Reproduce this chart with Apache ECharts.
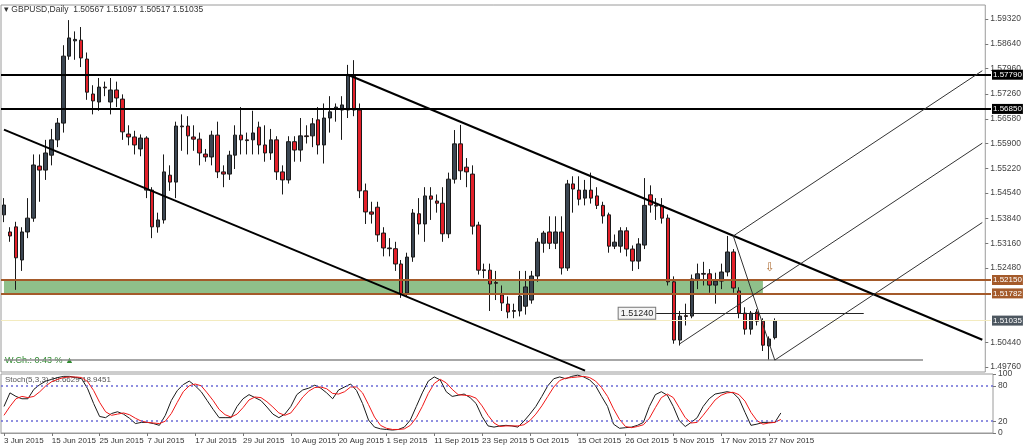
<!DOCTYPE html>
<html><head><meta charset="utf-8">
<script src="https://cdn.jsdelivr.net/npm/echarts@6/dist/echarts.min.js"></script>
<style>html,body{margin:0;padding:0;background:#fff}#c{width:1024px;height:447px}</style>
</head><body><div id="c"></div>
<script>
// [open, close, low, high]
const candles = [
[1.5394,1.5421,1.5374,1.5440],[1.5347,1.5336,1.5320,1.5360],[1.5361,1.5276,1.5188,1.5375],[1.5270,1.5347,1.5240,1.5360],
[1.5347,1.5385,1.5330,1.5440],[1.5385,1.5531,1.5375,1.5560],[1.5528,1.5517,1.5430,1.5560],[1.5517,1.5564,1.5490,1.5600],
[1.5558,1.5600,1.5530,1.5630],[1.5600,1.5646,1.5580,1.5660],[1.5646,1.5830,1.5620,1.5860],[1.5830,1.5880,1.5820,1.5929],
[1.5872,1.5876,1.5820,1.5898],[1.5874,1.5825,1.5800,1.5910],[1.5822,1.5731,1.5710,1.5840],[1.5726,1.5707,1.5670,1.5750],
[1.5704,1.5745,1.5680,1.5770],[1.5745,1.5743,1.5720,1.5760],[1.5704,1.5737,1.5670,1.5770],[1.5737,1.5715,1.5690,1.5760],
[1.5712,1.5622,1.5600,1.5725],[1.5616,1.5608,1.5585,1.5640],[1.5608,1.5586,1.5560,1.5625],[1.5575,1.5605,1.5555,1.5615],
[1.5605,1.5462,1.5440,1.5610],[1.5462,1.5361,1.5330,1.5470],[1.5361,1.5380,1.5345,1.5400],[1.5380,1.5512,1.5370,1.5560],
[1.5503,1.5484,1.5460,1.5530],[1.5484,1.5638,1.5440,1.5650],[1.5638,1.5636,1.5570,1.5670],[1.5638,1.5611,1.5560,1.5665],
[1.5608,1.5602,1.5570,1.5640],[1.5602,1.5564,1.5530,1.5620],[1.5561,1.5553,1.5540,1.5575],[1.5553,1.5613,1.5530,1.5625],
[1.5613,1.5512,1.5495,1.5650],[1.5512,1.5506,1.5470,1.5530],[1.5506,1.5558,1.5490,1.5570],[1.5558,1.5613,1.5520,1.5640],
[1.5613,1.5600,1.5560,1.5690],[1.5600,1.5598,1.5560,1.5620],[1.5600,1.5619,1.5560,1.5680],[1.5635,1.5586,1.5560,1.5650],
[1.5586,1.5564,1.5540,1.5640],[1.5564,1.5600,1.5545,1.5630],[1.5600,1.5512,1.5490,1.5610],[1.5512,1.5490,1.5450,1.5530],
[1.5490,1.5595,1.5480,1.5610],[1.5595,1.5572,1.5540,1.5610],[1.5572,1.5611,1.5540,1.5660],[1.5611,1.5609,1.5590,1.5640],
[1.5611,1.5644,1.5580,1.5660],[1.5655,1.5586,1.5560,1.5690],[1.5586,1.5660,1.5535,1.5700],[1.5660,1.5677,1.5620,1.5720],
[1.5686,1.5690,1.5650,1.5700],[1.5682,1.5696,1.5600,1.5720],[1.5682,1.5778,1.5660,1.5806],[1.5775,1.5682,1.5665,1.5819],
[1.5682,1.5460,1.5440,1.5700],[1.5460,1.5402,1.5369,1.5480],[1.5402,1.5396,1.5370,1.5430],[1.5415,1.5339,1.5320,1.5430],
[1.5344,1.5303,1.5280,1.5360],[1.5303,1.5301,1.5280,1.5330],[1.5301,1.5259,1.5240,1.5320],[1.5259,1.5177,1.5166,1.5270],
[1.5179,1.5278,1.5170,1.5290],[1.5278,1.5399,1.5265,1.5410],[1.5397,1.5369,1.5340,1.5440],[1.5369,1.5446,1.5320,1.5470],
[1.5446,1.5437,1.5380,1.5470],[1.5432,1.5426,1.5400,1.5450],[1.5426,1.5342,1.5320,1.5470],[1.5342,1.5492,1.5330,1.5510],
[1.5492,1.5589,1.5480,1.5627],[1.5589,1.5515,1.5490,1.5641],[1.5525,1.5512,1.5470,1.5550],[1.5506,1.5363,1.5340,1.5530],
[1.5366,1.5242,1.5230,1.5375],[1.5243,1.5241,1.5220,1.5260],[1.5242,1.5204,1.5130,1.5260],[1.5208,1.5206,1.5160,1.5240],
[1.5174,1.5152,1.5130,1.5200],[1.5149,1.5127,1.5110,1.5170],[1.5131,1.5129,1.5110,1.5150],[1.5130,1.5171,1.5115,1.5240],
[1.5143,1.5196,1.5120,1.5240],[1.5160,1.5226,1.5150,1.5240],[1.5226,1.5319,1.5210,1.5330],[1.5316,1.5344,1.5290,1.5350],
[1.5347,1.5316,1.5300,1.5390],[1.5316,1.5347,1.5300,1.5390],[1.5347,1.5248,1.5230,1.5390],[1.5248,1.5479,1.5240,1.5490],
[1.5479,1.5465,1.5400,1.5500],[1.5462,1.5437,1.5420,1.5500],[1.5440,1.5462,1.5420,1.5490],[1.5462,1.5440,1.5425,1.5510],
[1.5446,1.5420,1.5410,1.5470],[1.5420,1.5391,1.5370,1.5430],[1.5394,1.5308,1.5290,1.5400],[1.5308,1.5319,1.5300,1.5340],
[1.5308,1.5350,1.5290,1.5360],[1.5350,1.5300,1.5280,1.5360],[1.5300,1.5267,1.5240,1.5310],[1.5267,1.5314,1.5245,1.5330],
[1.5311,1.5420,1.5300,1.5495],[1.5449,1.5421,1.5400,1.5475],[1.5420,1.5418,1.5380,1.5440],[1.5420,1.5385,1.5370,1.5440],
[1.5385,1.5210,1.5200,1.5395],[1.5210,1.5050,1.5040,1.5225],[1.5050,1.5116,1.5035,1.5130],[1.5117,1.5115,1.5090,1.5150],
[1.5116,1.5218,1.5110,1.5230],[1.5215,1.5232,1.5190,1.5260],[1.5233,1.5231,1.5200,1.5265],[1.5232,1.5201,1.5180,1.5245],
[1.5201,1.5212,1.5150,1.5235],[1.5212,1.5237,1.5190,1.5260],[1.5237,1.5292,1.5225,1.5336],[1.5292,1.5193,1.5180,1.5300],
[1.5185,1.5124,1.5110,1.5195],[1.5124,1.5080,1.5065,1.5140],[1.5080,1.5124,1.5065,1.5130],[1.5127,1.5102,1.5090,1.5135],
[1.5102,1.5036,1.5020,1.5110],[1.5034,1.5053,1.4995,1.5060],[1.50567,1.51035,1.50517,1.51097]
];
const stochK = [45,68,62,58,58,74,82,88,91,94,96,96,94,92,75,50,28,26,33,36,32,25,16,18,18,16,13,30,55,72,82,88,80,70,55,40,26,26,26,45,58,65,60,55,44,32,26,32,45,65,73,76,81,76,68,58,73,78,83,72,50,22,10,7,6,5,6,10,22,45,68,88,95,90,70,62,64,66,60,50,28,12,10,12,13,12,10,20,32,45,62,80,92,95,92,96,98,95,90,80,62,45,15,8,9,10,13,18,45,65,70,64,45,21,11,18,26,45,58,66,68,70,68,58,35,13,15,18,18,18,34];
const stochD = [30,45,58,62,60,62,70,80,87,91,94,95,95,94,87,72,52,36,30,32,34,31,25,20,18,17,16,20,33,52,70,80,83,80,68,55,40,31,27,32,43,56,61,60,53,44,34,30,34,47,61,71,77,78,75,67,66,70,78,78,68,48,27,13,8,6,6,7,13,26,45,67,84,91,85,74,65,64,63,59,46,30,17,11,12,12,12,14,21,32,46,62,78,89,93,94,95,96,94,88,77,62,41,23,11,9,11,14,25,43,60,66,60,43,26,17,18,30,43,56,64,68,69,65,54,35,21,15,17,18,23];
const dateLabels = ['3 Jun 2015','15 Jun 2015','25 Jun 2015','7 Jul 2015','17 Jul 2015','29 Jul 2015','10 Aug 2015','20 Aug 2015','1 Sep 2015','11 Sep 2015','23 Sep 2015','5 Oct 2015','15 Oct 2015','26 Oct 2015','5 Nov 2015','17 Nov 2015','27 Nov 2015'];
const priceTicks = [1.5932,1.5864,1.5796,1.5726,1.5658,1.5590,1.5522,1.5454,1.5384,1.5316,1.5248,1.5044,1.4976];
const stochTicks = [0,20,80,100];
const levels = {r1:1.5779, r2:1.5685, zoneTop:1.5215, zoneBot:1.51782, last:1.51035, pivot:1.5124, low:1.4995};
const totalSlots = 166;

const cats = Array.from({length: totalSlots}, (_, i) => i);
const font = 'Liberation Sans';
const boxLabel = (txt, bg) => ({show:true, position:'end', formatter:txt, backgroundColor:bg, color:'#fff',
  fontFamily:font, fontSize:8, padding:[1,1], distance:1});
const hline = (v, c, w, lab) => [
  {coord:[0, v], x:1, lineStyle:{color:c, width:w, type:'solid'}, label:lab||{show:false}},
  {coord:[165, v], x:991}];

const chart = echarts.init(document.getElementById('c'));
chart.setOption({
  animation:false,
  textStyle:{fontFamily:font},
  grid:[{left:1, right:31, top:5, height:367, show:true, borderColor:'#9a9a9a', borderWidth:1},
        {left:1, right:31, top:374, height:59, show:true, borderColor:'#9a9a9a', borderWidth:1}],
  xAxis:[
    {type:'category', data:cats, gridIndex:0, boundaryGap:true, axisLine:{show:false}, axisTick:{show:false}, axisLabel:{show:false}, splitLine:{show:false}},
    {type:'category', data:cats, gridIndex:1, boundaryGap:true, axisLine:{lineStyle:{color:'#9a9a9a'}},
     axisTick:{show:true, alignWithLabel:true, interval:(i)=>i%8===0 && i/8<dateLabels.length, lineStyle:{color:'#777'}, length:3},
     axisLabel:{interval:(i)=>i%8===0 && i/8<dateLabels.length, formatter:(v)=>dateLabels[v/8]||'', align:'left', color:'#333', fontSize:8, margin:4}}
  ],
  yAxis:[
    {type:'value', gridIndex:0, position:'right', min:1.49623, max:1.59705, splitLine:{show:false},
     axisLine:{show:false}, axisTick:{show:true, customValues:priceTicks, length:3, lineStyle:{color:'#777'}},
     axisLabel:{customValues:priceTicks, formatter:(v)=>v.toFixed(5), color:'#444', fontSize:8.5, margin:5, hideOverlap:false}},
    {type:'value', gridIndex:1, position:'right', min:0, max:100, splitLine:{show:false}, axisLine:{show:false},
     axisTick:{show:true, customValues:stochTicks, length:3, lineStyle:{color:'#777'}},
     axisLabel:{customValues:stochTicks, color:'#444', fontSize:8.5, margin:5}}
  ],
  series:[
    {type:'line', xAxisIndex:0, yAxisIndex:0, data:[], z:1,
     markArea:{silent:true, itemStyle:{color:'#8fc08a'}, data:[[{xAxis:0, yAxis:levels.zoneBot},{xAxis:128, yAxis:levels.zoneTop}]]}},
    {type:'line', xAxisIndex:0, yAxisIndex:0, data:[], z:2,
     markLine:{silent:true, symbol:['none','none'], animation:false,
      data:[
        hline(levels.last, '#f3ebbf', 1, boxLabel('1.51035','#4d5760')),
        hline(levels.r1, '#000', 2, boxLabel('1.57790','#000')),
        hline(levels.r2, '#000', 2, boxLabel('1.56850','#000')),
        hline(levels.zoneTop, '#a45a2a', 2, boxLabel('1.52150','#a45a2a')),
        hline(levels.zoneBot, '#a45a2a', 2, boxLabel('1.51782','#a45a2a'))
      ]}},
    {type:'candlestick', xAxisIndex:0, yAxisIndex:0, data:candles, barWidth:4, z:3,
     itemStyle:{color:'#3b4652', color0:'#e3202a', borderColor:'#1a1a1a', borderColor0:'#1a1a1a', borderWidth:1},
     markLine:{silent:true, symbol:['none','none'], animation:false,
      data:[
        [{coord:[0,levels.low], lineStyle:{color:'#8a8a8a', width:1.5, type:'solid'}, label:{show:false}},{coord:[155,levels.low]}],
        [{coord:[110,levels.pivot], lineStyle:{color:'#222', width:1, type:'solid'},
          label:{show:true, position:'start', formatter:'1.51240', color:'#222', fontSize:9, backgroundColor:'#f4f4f4', borderColor:'#777', borderWidth:1, padding:[1,2], distance:1}},
         {coord:[145,levels.pivot]}],
        [{coord:[58,1.5779], lineStyle:{color:'#000', width:2, type:'solid'}, label:{show:false}},{coord:[165,1.5051]}],
        [{coord:[0,1.5628], lineStyle:{color:'#000', width:2, type:'solid'}, label:{show:false}},{coord:[98,1.4966]}],
        [{coord:[114,1.5040], lineStyle:{color:'#333', width:1, type:'solid'}, label:{show:false}},{coord:[165,1.5591]}],
        [{coord:[123,1.5336], lineStyle:{color:'#333', width:1, type:'solid'}, label:{show:false}},{coord:[165,1.5790]}],
        [{coord:[130,1.4995], lineStyle:{color:'#333', width:1, type:'solid'}, label:{show:false}},{coord:[165,1.5373]}],
        [{coord:[123,1.5336], lineStyle:{color:'#333', width:1, type:'solid'}, label:{show:false}},{coord:[130,1.4995]}]
      ]}
    },
    {type:'line', xAxisIndex:1, yAxisIndex:1, data:stochK, showSymbol:false, lineStyle:{color:'#1a1a1a', width:1},
     markLine:{silent:true, symbol:['none','none'], label:{show:false},
       data:[{yAxis:80},{yAxis:20}], lineStyle:{color:'#6b6bd6', type:[2,3], width:1.5}}},
    {type:'line', xAxisIndex:1, yAxisIndex:1, data:stochD, showSymbol:false, lineStyle:{color:'#f01818', width:1}}
  ],
  graphic:[
    {type:'text', left:4, top:5, style:{text:'▾ GBPUSD,Daily  1.50567 1.51097 1.50517 1.51035', fill:'#333', fontSize:8.5, fontFamily:font}},
    {type:'text', left:5, top:356, style:{text:'W.Ch.: 0.43 % ▲', fill:'#2e8b2e', fontSize:9, fontFamily:font}},
    {type:'text', left:5, top:376, style:{text:'Stoch(5,3,3) 18.6629 18.9451', fill:'#555', fontSize:8, fontFamily:font}},
    {type:'text', left:765, top:262, style:{text:'⇩', fill:'#b0703a', fontSize:12, fontFamily:'DejaVu Sans'}}
  ]
});
</script></body></html>
